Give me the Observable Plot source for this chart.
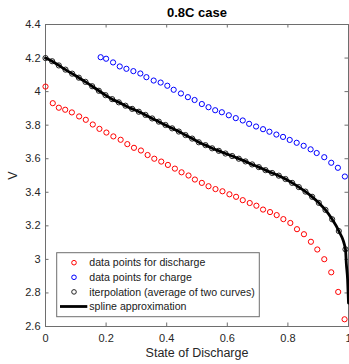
<!DOCTYPE html>
<html>
<head>
<meta charset="utf-8">
<script src="https://cdn.jsdelivr.net/npm/d3@7"></script>
<script src="https://cdn.jsdelivr.net/npm/@observablehq/plot@0.6"></script>
<style>
  body { margin: 0; background: #fff; }
  svg { font-family: "Liberation Sans", Arial, sans-serif; }
</style>
</head>
<body>
<div id="chart"></div>
<script>
// Discharge measurements (state of discharge, voltage)
const dischargeSoc = [0.000, 0.024, 0.044, 0.065, 0.087, 0.111, 0.133, 0.156, 0.178, 0.201,
  0.224, 0.248, 0.270, 0.292, 0.315, 0.337, 0.359, 0.382, 0.404, 0.427,
  0.449, 0.472, 0.493, 0.516, 0.538, 0.561, 0.584, 0.607, 0.629, 0.651,
  0.674, 0.696, 0.718, 0.741, 0.763, 0.785, 0.808, 0.830, 0.853, 0.876,
  0.897, 0.920, 0.943, 0.966, 0.987];
const dischargeV = [4.030, 3.931, 3.904, 3.892, 3.876, 3.852, 3.832, 3.804, 3.778, 3.756,
  3.733, 3.713, 3.687, 3.665, 3.649, 3.622, 3.600, 3.583, 3.563, 3.541,
  3.519, 3.500, 3.476, 3.456, 3.436, 3.419, 3.406, 3.388, 3.373, 3.353,
  3.336, 3.320, 3.297, 3.282, 3.264, 3.240, 3.217, 3.180, 3.150, 3.105,
  3.059, 3.001, 2.923, 2.806, 2.643];

// Charge measurements
const chargeSoc = [0.182, 0.200, 0.223, 0.245, 0.267, 0.290, 0.313, 0.333, 0.357, 0.380,
  0.402, 0.423, 0.447, 0.470, 0.492, 0.516, 0.538, 0.560, 0.582, 0.605,
  0.628, 0.651, 0.672, 0.695, 0.718, 0.739, 0.762, 0.784, 0.806, 0.829,
  0.852, 0.875, 0.895, 0.920, 0.943, 0.965, 0.988];
const chargeV = [4.205, 4.196, 4.174, 4.150, 4.136, 4.122, 4.108, 4.086, 4.066, 4.054,
  4.035, 4.011, 3.989, 3.967, 3.950, 3.926, 3.907, 3.889, 3.877, 3.859,
  3.842, 3.828, 3.808, 3.792, 3.776, 3.761, 3.744, 3.730, 3.712, 3.695,
  3.677, 3.656, 3.634, 3.609, 3.576, 3.546, 3.494];

// Interpolated (average of the two curves)
const interpSoc = [0.000, 0.022, 0.044, 0.066, 0.088, 0.110, 0.132, 0.154, 0.176, 0.198,
  0.220, 0.242, 0.264, 0.286, 0.308, 0.330, 0.352, 0.374, 0.396, 0.418,
  0.440, 0.462, 0.484, 0.506, 0.528, 0.550, 0.572, 0.594, 0.616, 0.638,
  0.660, 0.682, 0.704, 0.726, 0.748, 0.770, 0.792, 0.814, 0.836, 0.858,
  0.880, 0.902, 0.924, 0.946, 0.968, 0.990];
const interpV = [4.200, 4.181, 4.156, 4.131, 4.107, 4.083, 4.058, 4.032, 4.005, 3.979,
  3.955, 3.936, 3.916, 3.897, 3.880, 3.861, 3.840, 3.821, 3.801, 3.781,
  3.762, 3.741, 3.720, 3.698, 3.681, 3.662, 3.647, 3.631, 3.616, 3.600,
  3.584, 3.566, 3.550, 3.532, 3.515, 3.499, 3.479, 3.456, 3.431, 3.404,
  3.373, 3.337, 3.295, 3.239, 3.169, 3.060];

// Spline knots beyond the last interpolated point
const splineTailSoc = [0.993, 0.997, 1.000];
const splineTailV = [2.97, 2.88, 2.74];

const xTicks = [0, 0.2, 0.4, 0.6, 0.8, 1];
const yTicks = [2.6, 2.8, 3, 3.2, 3.4, 3.6, 3.8, 4, 4.2, 4.4];

const legendLabels = [
  "data points for discharge",
  "data points for charge",
  "iterpolation (average of two curves)",
  "spline approximation"
];
const seriesColors = ["#ff0000", "#0000ff", "#000000", "#000000"];

const zip = (xs, ys) => xs.map((x, i) => ({soc: x, v: ys[i]}));
const discharge = zip(dischargeSoc, dischargeV);
const charge = zip(chargeSoc, chargeV);
const interp = zip(interpSoc, interpV);
const spline = interp.concat(zip(splineTailSoc, splineTailV));

const W = 349, H = 364;
const mt = 24, mr = 1, mb = 38, ml = 45;
const innerW = W - ml - mr, innerH = H - mt - mb;
const tickLen = 3.5;
const axisColor = "#6e6e6e";
const labelColor = "#262626";

const plot = Plot.plot({
  width: W,
  height: H,
  marginTop: mt,
  marginRight: mr,
  marginBottom: mb,
  marginLeft: ml,
  style: {fontFamily: "'Liberation Sans', Arial, sans-serif", fontSize: "11px", background: "#fff", overflow: "visible"},
  x: {domain: [0, 1]},
  y: {domain: [2.6, 4.4]},
  marks: [
    Plot.frame({stroke: axisColor, strokeWidth: 1}),
    // inward ticks on all four sides
    Plot.tickX(xTicks, {x: d => d, insetTop: innerH - tickLen, stroke: axisColor}),
    Plot.tickX(xTicks, {x: d => d, insetBottom: innerH - tickLen, stroke: axisColor}),
    Plot.tickY(yTicks, {y: d => d, insetRight: innerW - tickLen, stroke: axisColor}),
    Plot.tickY(yTicks, {y: d => d, insetLeft: innerW - tickLen, stroke: axisColor}),
    Plot.axisX(xTicks, {tickSize: 0, tickPadding: 8, tickFormat: d => String(d), fill: labelColor, fontSize: 11, label: null}),
    Plot.axisY(yTicks, {tickSize: 0, tickPadding: 5, tickFormat: d => String(d), fill: labelColor, fontSize: 11, label: null}),
    Plot.dot(discharge, {x: "soc", y: "v", r: 2.6, stroke: seriesColors[0], strokeWidth: 1, fill: "none"}),
    Plot.dot(charge, {x: "soc", y: "v", r: 2.6, stroke: seriesColors[1], strokeWidth: 1, fill: "none"}),
    Plot.dot(interp, {x: "soc", y: "v", r: 2.6, stroke: "#222", strokeWidth: 1, fill: "none"}),
    Plot.line(spline, {x: "soc", y: "v", curve: "monotone-x", stroke: seriesColors[3], strokeWidth: 2.8}),
    Plot.text(["0.8C case"], {frameAnchor: "top", dy: -12, fontWeight: "bold", fontSize: 13, fill: "#000", lineAnchor: "middle"}),
    Plot.text(["State of Discharge"], {frameAnchor: "bottom", dy: 26, fontSize: 12.5, fill: labelColor, lineAnchor: "middle", textAnchor: "middle"}),
    Plot.text(["V"], {frameAnchor: "left", dx: -33, rotate: -90, fontSize: 12.5, fill: labelColor, lineAnchor: "middle", textAnchor: "middle"})
  ]
});

document.getElementById("chart").append(plot);

// Legend box in the lower-left corner of the axes
const svg = d3.select(plot);
const x0 = ml, y1 = mt + innerH;
const box = {left: x0 + 11.7, top: y1 - 73.3, width: 202.6, height: 64};
const g = svg.append("g").attr("class", "legend").attr("text-anchor", "start");
g.append("rect")
  .attr("x", box.left).attr("y", box.top)
  .attr("width", box.width).attr("height", box.height)
  .attr("fill", "#fff").attr("stroke", axisColor).attr("stroke-width", 1);
const rowY = i => box.top + 10 + i * 14.6;
legendLabels.forEach((label, i) => {
  const cy = rowY(i);
  if (i < 3) {
    g.append("circle")
      .attr("cx", box.left + 17.3).attr("cy", cy).attr("r", 2.3)
      .attr("fill", "none").attr("stroke", i === 2 ? "#222" : seriesColors[i]).attr("stroke-width", 1);
  } else {
    g.append("line")
      .attr("x1", box.left + 3.3).attr("x2", box.left + 30.6)
      .attr("y1", cy).attr("y2", cy)
      .attr("stroke", seriesColors[i]).attr("stroke-width", 2.8);
  }
  g.append("text")
    .attr("x", box.left + 32.6).attr("y", cy)
    .attr("dy", "0.35em")
    .attr("text-anchor", "start")
    .attr("font-size", 10.6)
    .attr("fill", "#1a1a1a")
    .text(label);
});
</script>
</body>
</html>
